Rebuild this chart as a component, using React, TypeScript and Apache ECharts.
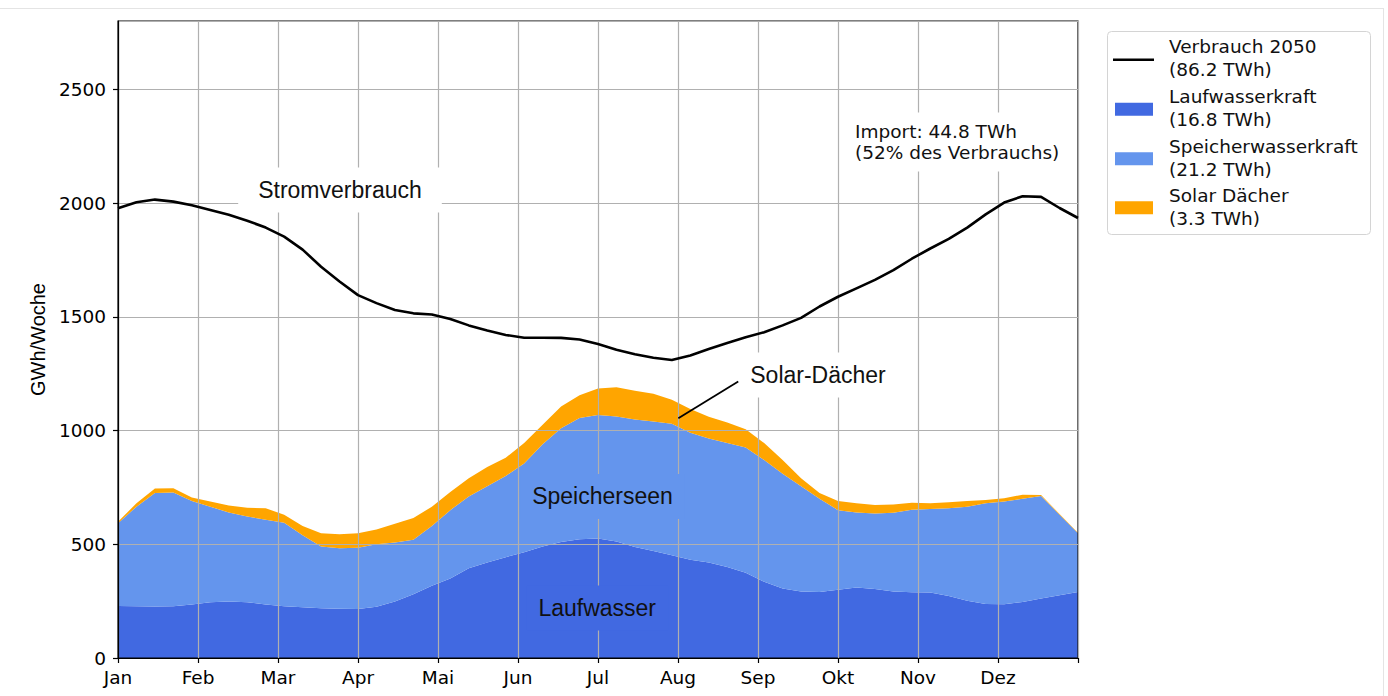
import React, { useEffect, useRef } from 'react';
import * as echarts from 'echarts';

const MONTHS = ['Jan', 'Feb', 'Mar', 'Apr', 'Mai', 'Jun', 'Jul', 'Aug', 'Sep', 'Okt', 'Nov', 'Dez'];
const WEEKS = 52;

// GWh per week, weeks 0..52
const verbrauch = [
  1977, 2003, 2015, 2006, 1990, 1969, 1948, 1922, 1892, 1852,
  1795, 1720, 1655, 1595, 1560, 1530, 1515, 1510, 1490, 1462,
  1440, 1420, 1408, 1408, 1407, 1400, 1380, 1355, 1335, 1320,
  1310, 1330, 1358, 1385, 1410, 1432, 1462, 1495, 1545, 1588,
  1625, 1662, 1705, 1755, 1800, 1842, 1892, 1950, 2002, 2030,
  2027, 1978, 1934,
];
const laufwasser = [
  229, 228, 226, 228, 235, 245, 248, 245, 235, 228,
  223, 219, 216, 215, 225, 248, 280, 318, 350, 395,
  420, 443, 465, 490, 510, 522, 525, 512, 488, 470,
  452, 432, 420, 400, 375, 335, 306, 292, 290, 300,
  310, 303, 292, 289, 288, 272, 252, 237, 236, 246,
  262, 276, 290,
];
const speicher = [
  363, 437, 499, 499, 455, 420, 392, 377, 373, 366,
  317, 271, 266, 270, 275, 260, 240, 262, 300, 315,
  335, 357, 390, 450, 500, 533, 543, 550, 560, 570,
  578, 558, 545, 545, 550, 535, 504, 463, 410, 350,
  330, 332, 346, 363, 367, 386, 413, 443, 452, 454,
  450, 354, 258,
];
const solar = [
  7, 15, 20, 19, 15, 23, 30, 38, 50, 36,
  40, 58, 62, 63, 65, 82, 95, 85, 80, 80,
  85, 80, 90, 85, 95, 100, 117, 128, 127, 122,
  105, 105, 95, 90, 80, 75, 60, 35, 25, 40,
  40, 37, 37, 30, 25, 27, 25, 15, 14, 18,
  4, 3, 3,
];

const SERIES_NAMES = ['Verbrauch 2050', 'Laufwasserkraft', 'Speicherwasserkraft', 'Solar Dächer'];
const SERIES_TOTALS = ['(86.2 TWh)', '(16.8 TWh)', '(21.2 TWh)', '(3.3 TWh)'];
const COLORS = ['#000000', '#4169E1', '#6495ED', '#FFA500'];

const DV = '"DejaVu Sans", sans-serif';
const LS = '"Liberation Sans", Arial, sans-serif';

export default function App() {
  const ref = useRef<HTMLDivElement>(null);

  useEffect(() => {
    const chart = echarts.init(ref.current!, null, { renderer: 'svg' });
    const weekCats = verbrauch.map((_, i) => String(i));

    const areaSeries = (name: string, data: number[], color: string) => ({
      name,
      type: 'line',
      stack: 'erzeugung',
      xAxisIndex: 0,
      yAxisIndex: 0,
      data,
      symbol: 'none',
      showSymbol: false,
      lineStyle: { width: 0, color },
      itemStyle: { color },
      areaStyle: { color, opacity: 1 },
      z: 1,
      silent: true,
    });

    chart.setOption({
      animation: false,
      backgroundColor: '#ffffff',
      grid: {
        left: 118, right: 310, top: 21, bottom: 38,
        show: true, borderColor: '#000', borderWidth: 1.2, backgroundColor: 'transparent', z: 2,
      },
      xAxis: [
        {
          type: 'category', data: weekCats, boundaryGap: false, show: false,
          axisLine: { show: false }, axisTick: { show: false }, axisLabel: { show: false },
          splitLine: { show: false },
        },
        {
          type: 'value', min: 0, max: 12, interval: 1, z: 2, position: 'bottom',
          axisLine: { show: true, onZero: false, lineStyle: { color: '#000', width: 1.2 } },
          axisTick: { show: true, inside: false, length: 5, lineStyle: { color: '#000', width: 1.2 } },
          axisLabel: {
            margin: 10, color: '#000', fontFamily: DV, fontSize: 18.5,
            formatter: (v: number) => MONTHS[Math.round(v)] ?? '',
          },
          splitLine: { show: true, lineStyle: { color: '#b0b0b0', width: 1.2 } },
        },
      ],
      yAxis: {
        type: 'value', min: 0, max: 2800, interval: 500, z: 2,
        name: 'GWh/Woche', nameLocation: 'middle', nameRotate: 90, nameGap: 68,
        nameTextStyle: { fontFamily: LS, fontSize: 20, color: '#000' },
        axisLine: { show: true, lineStyle: { color: '#000', width: 1.2 } },
        axisTick: { show: true, inside: false, length: 5, lineStyle: { color: '#000', width: 1.2 } },
        axisLabel: {
          margin: 12, color: '#000', fontFamily: DV, fontSize: 18.5, showMaxLabel: false,
          formatter: (v: number) => String(v),
        },
        splitLine: { show: true, lineStyle: { color: '#b0b0b0', width: 1.2 } },
      },
      series: [
        areaSeries(SERIES_NAMES[1], laufwasser, COLORS[1]),
        areaSeries(SERIES_NAMES[2], speicher, COLORS[2]),
        areaSeries(SERIES_NAMES[3], solar, COLORS[3]),
        {
          name: SERIES_NAMES[0],
          type: 'line',
          xAxisIndex: 0,
          yAxisIndex: 0,
          data: verbrauch,
          symbol: 'none',
          showSymbol: false,
          lineStyle: { color: COLORS[0], width: 2.6 },
          z: 3,
          silent: true,
        },
      ],
    });

    const p = (x: number, y: number) =>
      chart.convertToPixel({ xAxisIndex: 1, yAxisIndex: 0 }, [x, y]) as number[];

    const graphics: any[] = [];
    // faint page frame
    graphics.push({ type: 'line', shape: { x1: 0, y1: 8.5, x2: 1383, y2: 8.5 }, style: { stroke: '#e4e4e4', lineWidth: 1 }, z: 0 });
    graphics.push({ type: 'line', shape: { x1: 1383.5, y1: 8, x2: 1383.5, y2: 696 }, style: { stroke: '#e4e4e4', lineWidth: 1 }, z: 0 });

    const label = (text: string, pos: number[], bg: string, pad: number[]) => ({
      type: 'text', z: 10,
      x: pos[0], y: pos[1],
      style: {
        text, font: `23px ${LS}`, fill: '#111', align: 'center', verticalAlign: 'middle',
        backgroundColor: bg, padding: pad,
      },
    });
    graphics.push(label('Stromverbrauch', p(2.775, 2057), '#ffffff', [11, 20]));
    graphics.push(label('Speicherseen', p(6.056, 710), COLORS[2], [11, 12]));
    graphics.push(label('Laufwasser', p(5.99, 220), COLORS[1], [11, 12]));

    const a0 = p(7.753, 1215);
    const a1 = p(7.004, 1054);
    graphics.push({ type: 'line', z: 10, shape: { x1: a0[0], y1: a0[1], x2: a1[0], y2: a1[1] }, style: { stroke: '#000', lineWidth: 1.8 } });
    graphics.push(label('Solar-Dächer', p(8.75, 1244), '#ffffff', [11, 10]));

    const imp = p(9.2125, 2268);
    graphics.push({
      type: 'text', z: 10, x: imp[0] - 8, y: imp[1],
      style: {
        text: 'Import: 44.8 TWh\n(52% des Verbrauchs)', font: `18.5px ${DV}`, fill: '#111',
        align: 'left', verticalAlign: 'middle', lineHeight: 21.5,
        backgroundColor: '#ffffff', padding: [8, 8],
      },
    });

    // legend
    graphics.push({
      type: 'rect', z: 10, shape: { x: 1107.5, y: 31.5, width: 263, height: 203, r: 4 },
      style: { fill: '#ffffff', stroke: '#d4d4d4', lineWidth: 1 },
    });
    const mids = [58.3, 108.3, 157.8, 206.8];
    SERIES_NAMES.forEach((name, i) => {
      const m = mids[i];
      if (i === 0) {
        graphics.push({ type: 'line', z: 11, shape: { x1: 1113, y1: m + 1.5, x2: 1154, y2: m + 1.5 }, style: { stroke: COLORS[0], lineWidth: 2.6 } });
      } else {
        graphics.push({ type: 'rect', z: 11, shape: { x: 1115, y: m - 5.5, width: 38, height: 13 }, style: { fill: COLORS[i] } });
      }
      graphics.push({
        type: 'text', z: 11, x: 1169, y: m,
        style: {
          text: `${name}\n${SERIES_TOTALS[i]}`, font: `18.5px ${DV}`, fill: '#111',
          align: 'left', verticalAlign: 'middle', lineHeight: 23.3,
        },
      });
    });

    chart.setOption({ graphic: graphics });

    return () => chart.dispose();
  }, []);

  return (
    <div
      ref={ref}
      style={{ position: 'fixed', left: 0, top: 0, width: 1388, height: 696, background: '#fff' }}
    />
  );
}
